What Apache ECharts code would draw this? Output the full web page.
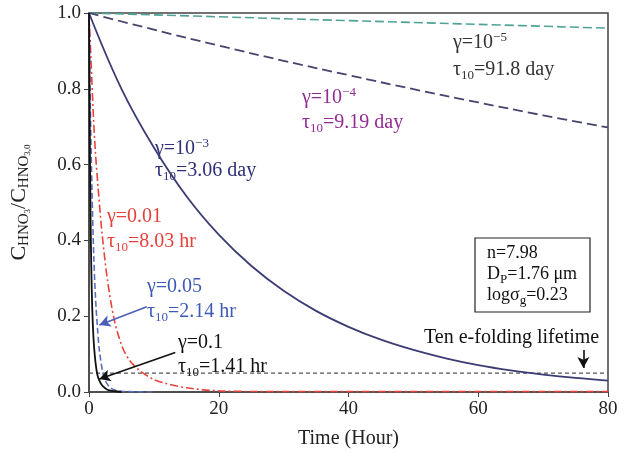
<!DOCTYPE html>
<html>
<head>
<meta charset="utf-8">
<script src="https://cdn.jsdelivr.net/npm/echarts@6/dist/echarts.min.js"></script>
<style>
  html, body { margin: 0; padding: 0; background: #fff; }
  #chart { width: 629px; height: 456px; }
</style>
</head>
<body>
<div id="chart"></div>
<script>
// time axis (hours) and the readings for every gamma curve
const xTicks = [0, 20, 40, 60, 80]
const yTicks = [0, 0.2, 0.4, 0.6, 0.8, 1.0]

const tG5 = [0, 20, 40, 60, 80]
const vG5 = [1.0, 0.99, 0.98, 0.97, 0.96]

const tG4 = [0, 10, 20, 30, 40, 50, 60, 70, 80]
const vG4 = [1.0, 0.956, 0.914, 0.874, 0.836, 0.799, 0.764, 0.73, 0.698]

const tG3 = [0, 5, 10, 15, 20, 25, 30, 35, 40, 45, 50, 55, 60, 65, 70, 75, 80]
const vG3 = [1.0, 0.80, 0.645, 0.517, 0.415, 0.333, 0.267, 0.214, 0.172, 0.138, 0.111, 0.089, 0.071, 0.057, 0.046, 0.037, 0.030]

const tG01 = [0, 0.3, 0.7, 1.0, 1.4, 2, 2.85, 3.9, 5.1, 6.2, 7.7, 10, 12, 15, 20, 30, 40, 50, 60, 70, 80]
const vG01 = [1.0, 0.88, 0.72, 0.63, 0.54, 0.42, 0.295, 0.19, 0.12, 0.085, 0.058, 0.033, 0.022, 0.011, 0.003, 0.001, 0.001, 0.001, 0.001, 0.001, 0.001]

const tG05 = [0, 0.2, 0.46, 0.75, 1.0, 1.3, 1.6, 2.14, 2.6, 3.2, 4, 5, 7, 10]
const vG05 = [1.0, 0.76, 0.53, 0.35, 0.25, 0.17, 0.11, 0.05, 0.027, 0.013, 0.005, 0.002, 0.0005, 0.0]

const tG1 = [0, 0.08, 0.15, 0.25, 0.35, 0.5, 0.7, 0.9, 1.1, 1.3, 1.6, 2, 2.5, 3, 4, 5]
const vG1 = [1.0, 0.8, 0.62, 0.45, 0.33, 0.22, 0.14, 0.095, 0.065, 0.045, 0.03, 0.018, 0.01, 0.005, 0.002, 0.0]

const lifetimeLevel = 0.05
const lifetimeSpan = [0, 80]

// arrows: [from, to] in data units
const arrowBlue = [[8.9, 0.225], [1.6, 0.177]]
const arrowBlack = [[13.3, 0.104], [1.6, 0.034]]
const arrowLifetime = [[76.2, 0.111], [76.2, 0.063]]

const serif = '"Liberation Serif", "DejaVu Serif", serif'
const zip = (t, v) => t.map((x, i) => [x, v[i]])

const chart = echarts.init(document.getElementById('chart'))

const richBase = size => ({
  m: { fontFamily: serif, fontSize: size, lineHeight: 24 },
  sub: { fontFamily: serif, fontSize: 13, lineHeight: 13, verticalAlign: 'bottom' },
  sup: { fontFamily: serif, fontSize: 13, lineHeight: 13, verticalAlign: 'top' },
})

function label(x, y, text, color, size = 20) {
  const rich = richBase(size)
  Object.keys(rich).forEach(k => { rich[k].fill = color; rich[k].color = color })
  return {
    type: 'text', x, y, silent: true,
    style: { text, rich, fill: color, verticalAlign: 'middle', font: `${size}px ${serif}` }
  }
}

function arrow(seg) {
  return [{ coord: seg[0] }, { coord: seg[1] }]
}

const option = {
  animation: false,
  backgroundColor: '#fff',
  grid: { left: 83, right: 21, top: 13, bottom: 64, show: true, borderColor: '#444', borderWidth: 1.5 },
  xAxis: {
    type: 'value', min: 0, max: 80, interval: 20,
    name: 'Time (Hour)', nameLocation: 'middle', nameGap: 37,
    nameTextStyle: { fontFamily: serif, fontSize: 20, color: '#222' },
    axisLine: { lineStyle: { color: '#444', width: 1.5 } },
    axisTick: { length: 5, lineStyle: { color: '#444' } },
    axisLabel: { fontFamily: serif, fontSize: 19, color: '#222', margin: 8 },
    splitLine: { show: false },
  },
  yAxis: {
    type: 'value', min: 0, max: 1, interval: 0.2,
    name: '{m|C}{sub|HNO}{ss|3}{m|/C}{sub|HNO}{ss|3,0}',
    nameLocation: 'middle', nameGap: 57, nameRotate: 90,
    nameTextStyle: {
      color: '#222',
      rich: {
        m: { fontFamily: serif, fontSize: 22, lineHeight: 26, color: '#222' },
        sub: { fontFamily: serif, fontSize: 15, lineHeight: 16, verticalAlign: 'bottom', color: '#222' },
        ss: { fontFamily: serif, fontSize: 9, lineHeight: 9, verticalAlign: 'bottom', color: '#222' },
      }
    },
    axisLine: { lineStyle: { color: '#444', width: 1.5 } },
    axisTick: { length: 5, lineStyle: { color: '#444' } },
    axisLabel: { fontFamily: serif, fontSize: 19, color: '#222', margin: 8, formatter: v => v.toFixed(1) },
    splitLine: { show: false },
  },
  series: [
    {
      name: 'lifetime', type: 'line', symbol: 'none', silent: true,
      data: lifetimeSpan.map(x => [x, lifetimeLevel]),
      lineStyle: { color: '#555', width: 1.3, type: [4, 3] },
      markLine: {
        silent: true, symbol: ['none', 'arrow'], symbolSize: [9, 11],
        label: { show: false },
        lineStyle: { color: '#111', width: 1.6, type: 'solid' },
        data: [arrow(arrowBlack), arrow(arrowLifetime)]
      }
    },
    {
      name: 'g5', type: 'line', symbol: 'none', smooth: 0.4,
      data: zip(tG5, vG5),
      lineStyle: { color: '#4fa396', width: 1.6, type: [9, 4] }
    },
    {
      name: 'g4', type: 'line', symbol: 'none', smooth: 0.4,
      data: zip(tG4, vG4),
      lineStyle: { color: '#45456e', width: 1.8, type: [10, 5] }
    },
    {
      name: 'g3', type: 'line', symbol: 'none', smooth: 0.4,
      data: zip(tG3, vG3),
      lineStyle: { color: '#3c3c74', width: 1.8 }
    },
    {
      name: 'g01', type: 'line', symbol: 'none', smooth: 0.3,
      data: zip(tG01, vG01),
      lineStyle: { color: '#e8423c', width: 1.6, type: [8, 3, 2, 3] }
    },
    {
      name: 'g05', type: 'line', symbol: 'none', smooth: 0.3,
      data: zip(tG05, vG05),
      lineStyle: { color: '#5a6fc0', width: 1.6, type: [6, 3] },
      markLine: {
        silent: true, symbol: ['none', 'arrow'], symbolSize: [9, 11],
        label: { show: false },
        lineStyle: { color: '#4a5fb8', width: 1.6, type: 'solid' },
        data: [arrow(arrowBlue)]
      }
    },
    {
      name: 'g1', type: 'line', symbol: 'none', smooth: 0.3,
      data: zip(tG1, vG1),
      lineStyle: { color: '#111', width: 1.8 }
    },
  ],
  graphic: [
    label(453, 43, '{m|γ=10}{sup|−5}', '#333'),
    label(453, 70, '{m|τ}{sub|10}{m|=91.8 day}', '#333'),
    label(302, 98, '{m|γ=10}{sup|−4}', '#922b94'),
    label(302, 123, '{m|τ}{sub|10}{m|=9.19 day}', '#922b94'),
    label(155, 149, '{m|γ=10}{sup|−3}', '#2f2f7a'),
    label(155, 171, '{m|τ}{sub|10}{m|=3.06 day}', '#2f2f7a'),
    label(107, 217, '{m|γ=0.01}', '#e8403a'),
    label(107, 242, '{m|τ}{sub|10}{m|=8.03 hr}', '#e8403a'),
    label(147, 287, '{m|γ=0.05}', '#3d5ab6'),
    label(147, 312, '{m|τ}{sub|10}{m|=2.14 hr}', '#3d5ab6'),
    label(178, 343, '{m|γ=0.1}', '#111'),
    label(178, 367, '{m|τ}{sub|10}{m|=1.41 hr}', '#111'),
    {
      type: 'rect', silent: true,
      shape: { x: 475, y: 238, width: 115, height: 74 },
      style: { fill: '#fff', stroke: '#222', lineWidth: 1.2 }
    },
    label(487, 253, '{m|n=7.98}', '#111', 18),
    label(487, 274, '{m|D}{sub|P}{m|=1.76 μm}', '#111', 18),
    label(487, 295, '{m|logσ}{sub|g}{m|=0.23}', '#111', 18),
    label(424, 338, '{m|Ten e-folding lifetime}', '#111', 20),
  ]
}

chart.setOption(option)
</script>
</body>
</html>
